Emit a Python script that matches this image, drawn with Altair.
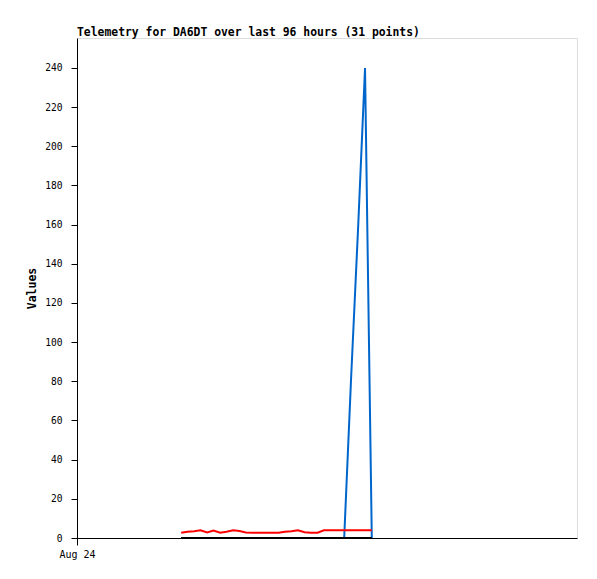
import altair as alt
import pandas as pd

# hours since Aug 24 00:00
hours = [20.0, 21.2, 22.5, 23.7, 25.0, 26.2, 27.5, 28.7, 30.0, 31.2, 32.4,
         33.7, 34.9, 36.2, 37.4, 38.7, 39.9, 41.2, 42.4, 43.7, 44.9, 46.2,
         47.4, 48.7, 49.9, 50.5, 51.3, 52.6, 54.0, 55.3, 56.6]
red_vals = [2.7, 3.2, 3.4, 3.9, 2.8, 3.8, 2.7, 3.2, 3.9, 3.6, 2.8,
            2.7, 2.7, 2.7, 2.7, 2.7, 3.2, 3.4, 3.9, 2.9, 2.7, 2.7,
            3.9, 3.9, 3.9, 3.9, 3.9, 3.9, 3.9, 3.9, 3.9]
blue_vals = [0, 0, 0, 0, 0, 0, 0, 0, 0, 0, 0,
             0, 0, 0, 0, 0, 0, 0, 0, 0, 0, 0,
             0, 0, 0, 0, 0, 80, 160, 240, 0]
black_vals = [0] * 31

df = pd.DataFrame({"t": hours, "red": red_vals, "blue": blue_vals, "black": black_vals})

x = alt.X("t:Q", scale=alt.Scale(domain=[0, 96], nice=False, zero=False),
          axis=alt.Axis(values=[0], labelExpr="'Aug 24'", title=None, grid=False,
                        domainColor="black", tickColor="black", tickSize=7,
                        labelFont="DejaVu Sans Mono", labelFontSize=10, labelColor="black",
                        labelPadding=4, labelBaseline="top", labelAlign="center",
                        labelFlush=False, labelBound=False))
yaxis = alt.Axis(values=list(range(0, 241, 20)), title="Values", grid=False,
                 domainColor="black", tickColor="black", tickSize=6,
                 labelFont="DejaVu Sans Mono", labelFontSize=9.6, labelColor="black",
                 labelPadding=9, titleFont="DejaVu Sans Mono", titleFontSize=11.5,
                 titleFontWeight="bold", titleColor="black", titleAngle=270,
                 titleBaseline="middle", titleX=-45, titleY=250, titleAlign="center")
yscale = alt.Scale(domain=[0, 255.3], nice=False)

base = alt.Chart(df)
blue = base.mark_line(color="#0066cc", strokeWidth=2).encode(
    x=x, y=alt.Y("blue:Q", scale=yscale, axis=yaxis))
red = base.mark_line(color="#ff0000", strokeWidth=2).encode(
    x=x, y=alt.Y("red:Q", scale=yscale, axis=yaxis))
black = base.mark_line(color="#000000", strokeWidth=2).encode(
    x=x, y=alt.Y("black:Q", scale=yscale, axis=yaxis))

chart = alt.layer(blue, red, black).properties(
    width=500, height=500,
    autosize=alt.AutoSizeParams(type="none"),
    padding={"left": 69, "top": 30, "right": 12, "bottom": 30},
    title=alt.TitleParams("Telemetry for DA6DT over last 96 hours (31 points)",
                          anchor="start", frame="group", font="DejaVu Sans Mono",
                          fontSize=11.4, fontWeight="bold", color="black", offset=0),
).configure_view(stroke="#666666", strokeWidth=1).configure(background="white")

chart.save("out.html", embed_options={"renderer": "svg", "actions": False})
